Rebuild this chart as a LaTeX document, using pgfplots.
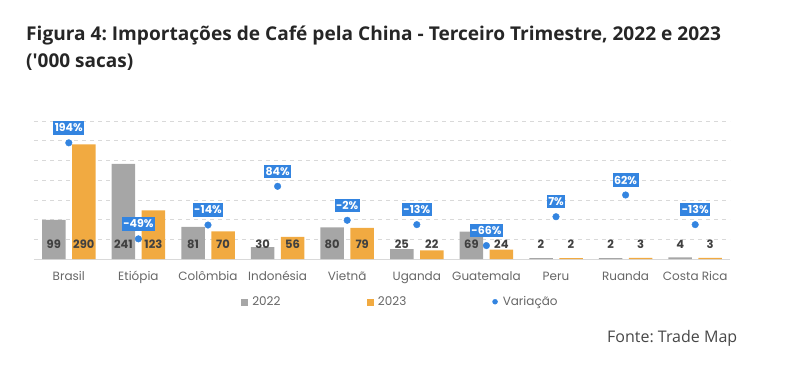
\documentclass[border=0pt]{standalone}
\usepackage{pgfplots}
\pgfplotsset{compat=1.18}
\usepackage{fontspec}
\setmainfont{Open Sans}[Ligatures=TeXOff]
\newfontfamily\pop{Poppins}
\definecolor{cgray}{HTML}{A6A6A6}
\definecolor{corange}{HTML}{F1AA41}
\definecolor{cblue}{HTML}{3384E0}
\definecolor{ctitle}{HTML}{262626}
\definecolor{ctick}{HTML}{666666}
\definecolor{clab}{HTML}{404040}
\frenchspacing
\begin{document}
\begin{tikzpicture}[x=1pt,y=1pt]
\path[use as bounding box] (0,0) rectangle (790,384);
\node[anchor=base west, inner sep=0, font=\fontsize{19}{23}\selectfont\bfseries, text=ctitle] at (26,343.5) {\scalebox{1.005}[1]{Figura 4: Importações de Café pela China - Terceiro Trimestre, 2022 e 2023}};
\node[anchor=base west, inner sep=0, font=\fontsize{19}{23}\selectfont\bfseries, text=ctitle] at (26,317) {('000 sacas)};
\node[anchor=base west, inner sep=0, font=\fontsize{16}{19}\selectfont, text=ctitle!85] at (607,42) {Fonte: Trade Map};

\begin{axis}[at={(34pt,125pt)}, anchor=south west, scale only axis,
  width=696pt, height=138.3pt,
  xmin=-0.5, xmax=9.5, ymin=0, ymax=350,
  axis x line=bottom, axis y line=left,
  x axis line style={draw=black!15, -},
  y axis line style={draw=none},
  major tick length=0pt,
  ytick={50,100,...,350}, yticklabels={},
  ymajorgrids, grid style={dash pattern=on 4pt off 4pt, draw=black!15},
  xtick={0,...,9},
  xticklabels={Brasil,Etiópia,Colômbia,Indonésia,Vietnã,Uganda,Guatemala,Peru,Ruanda,Costa Rica},
  xticklabel style={font=\pop\fontsize{12}{14}\selectfont, text=ctick, anchor=base, yshift=-21pt},
  clip=false]
\addplot[ybar, bar width=23.5pt, bar shift=-15pt, fill=cgray, draw=none]
  coordinates {(0,99) (1,241) (2,81) (3,30) (4,80) (5,25) (6,69) (7,2) (8,2) (9,4)};
\addplot[ybar, bar width=23.5pt, bar shift=15pt, fill=corange, draw=none]
  coordinates {(0,290) (1,123) (2,70) (3,56) (4,79) (5,22) (6,24) (7,2) (8,3) (9,3)};
\addplot[ybar, bar width=1pt, draw=none, fill=none,
  nodes near coords, point meta=explicit symbolic,
  every node near coord/.append style={anchor=center, xshift=-15pt, font=\pop\bfseries\fontsize{11.5}{13}\selectfont, text=clab}]
  coordinates {(0,38)[99] (1,38)[241] (2,38)[81] (3,38)[30] (4,38)[80] (5,38)[25] (6,38)[69] (7,38)[2] (8,38)[2] (9,38)[4]};
\addplot[ybar, bar width=1pt, draw=none, fill=none,
  nodes near coords, point meta=explicit symbolic,
  every node near coord/.append style={anchor=center, xshift=15pt, font=\pop\bfseries\fontsize{11.5}{13}\selectfont, text=clab}]
  coordinates {(0,38)[290] (1,38)[123] (2,38)[70] (3,38)[56] (4,38)[79] (5,38)[22] (6,38)[24] (7,38)[2] (8,38)[3] (9,38)[3]};
\end{axis}

\begin{axis}[at={(34pt,125pt)}, anchor=south west, scale only axis,
  width=696pt, height=138.3pt,
  xmin=-0.5, xmax=9.5, ymin=-100, ymax=250,
  hide axis, clip=false,
  legend columns=3,
  legend style={draw=none, fill=none, anchor=west, at={(axis description cs:0.297,-0.309)}, inner sep=0pt,
    font=\pop\fontsize{12}{14}\selectfont, text=ctick,
    /tikz/every odd column/.append style={column sep=3pt},
    /tikz/every even column/.append style={column sep=84pt}}]
\addlegendimage{legend image code/.code={\fill[cgray] (0pt,-3pt) rectangle (6pt,3pt);}}
\addlegendentry{2022}
\addlegendimage{legend image code/.code={\fill[corange] (0pt,-3pt) rectangle (6pt,3pt);}}
\addlegendentry{2023}
\addplot[only marks, mark=*, mark size=3.3pt, mark options={fill=cblue, draw=cblue},
  legend image code/.code={\fill[cblue] (2.5pt,0pt) circle (2.5pt);},
  nodes near coords, point meta=explicit symbolic,
  every node near coord/.append style={anchor=center, yshift=15pt, fill=cblue, text=white,
    font=\pop\bfseries\fontsize{11}{12}\selectfont, inner xsep=1.5pt, inner ysep=1pt, minimum height=13.5pt}]
  coordinates {(0,194)[194\%] (1,-49)[-49\%] (2,-14)[-14\%] (3,84)[84\%] (4,-2)[-2\%] (5,-13)[-13\%] (6,-66)[-66\%] (7,7)[7\%] (8,62)[62\%] (9,-13)[-13\%]};
\addlegendentry{Variação}
\end{axis}
\end{tikzpicture}
\end{document}
